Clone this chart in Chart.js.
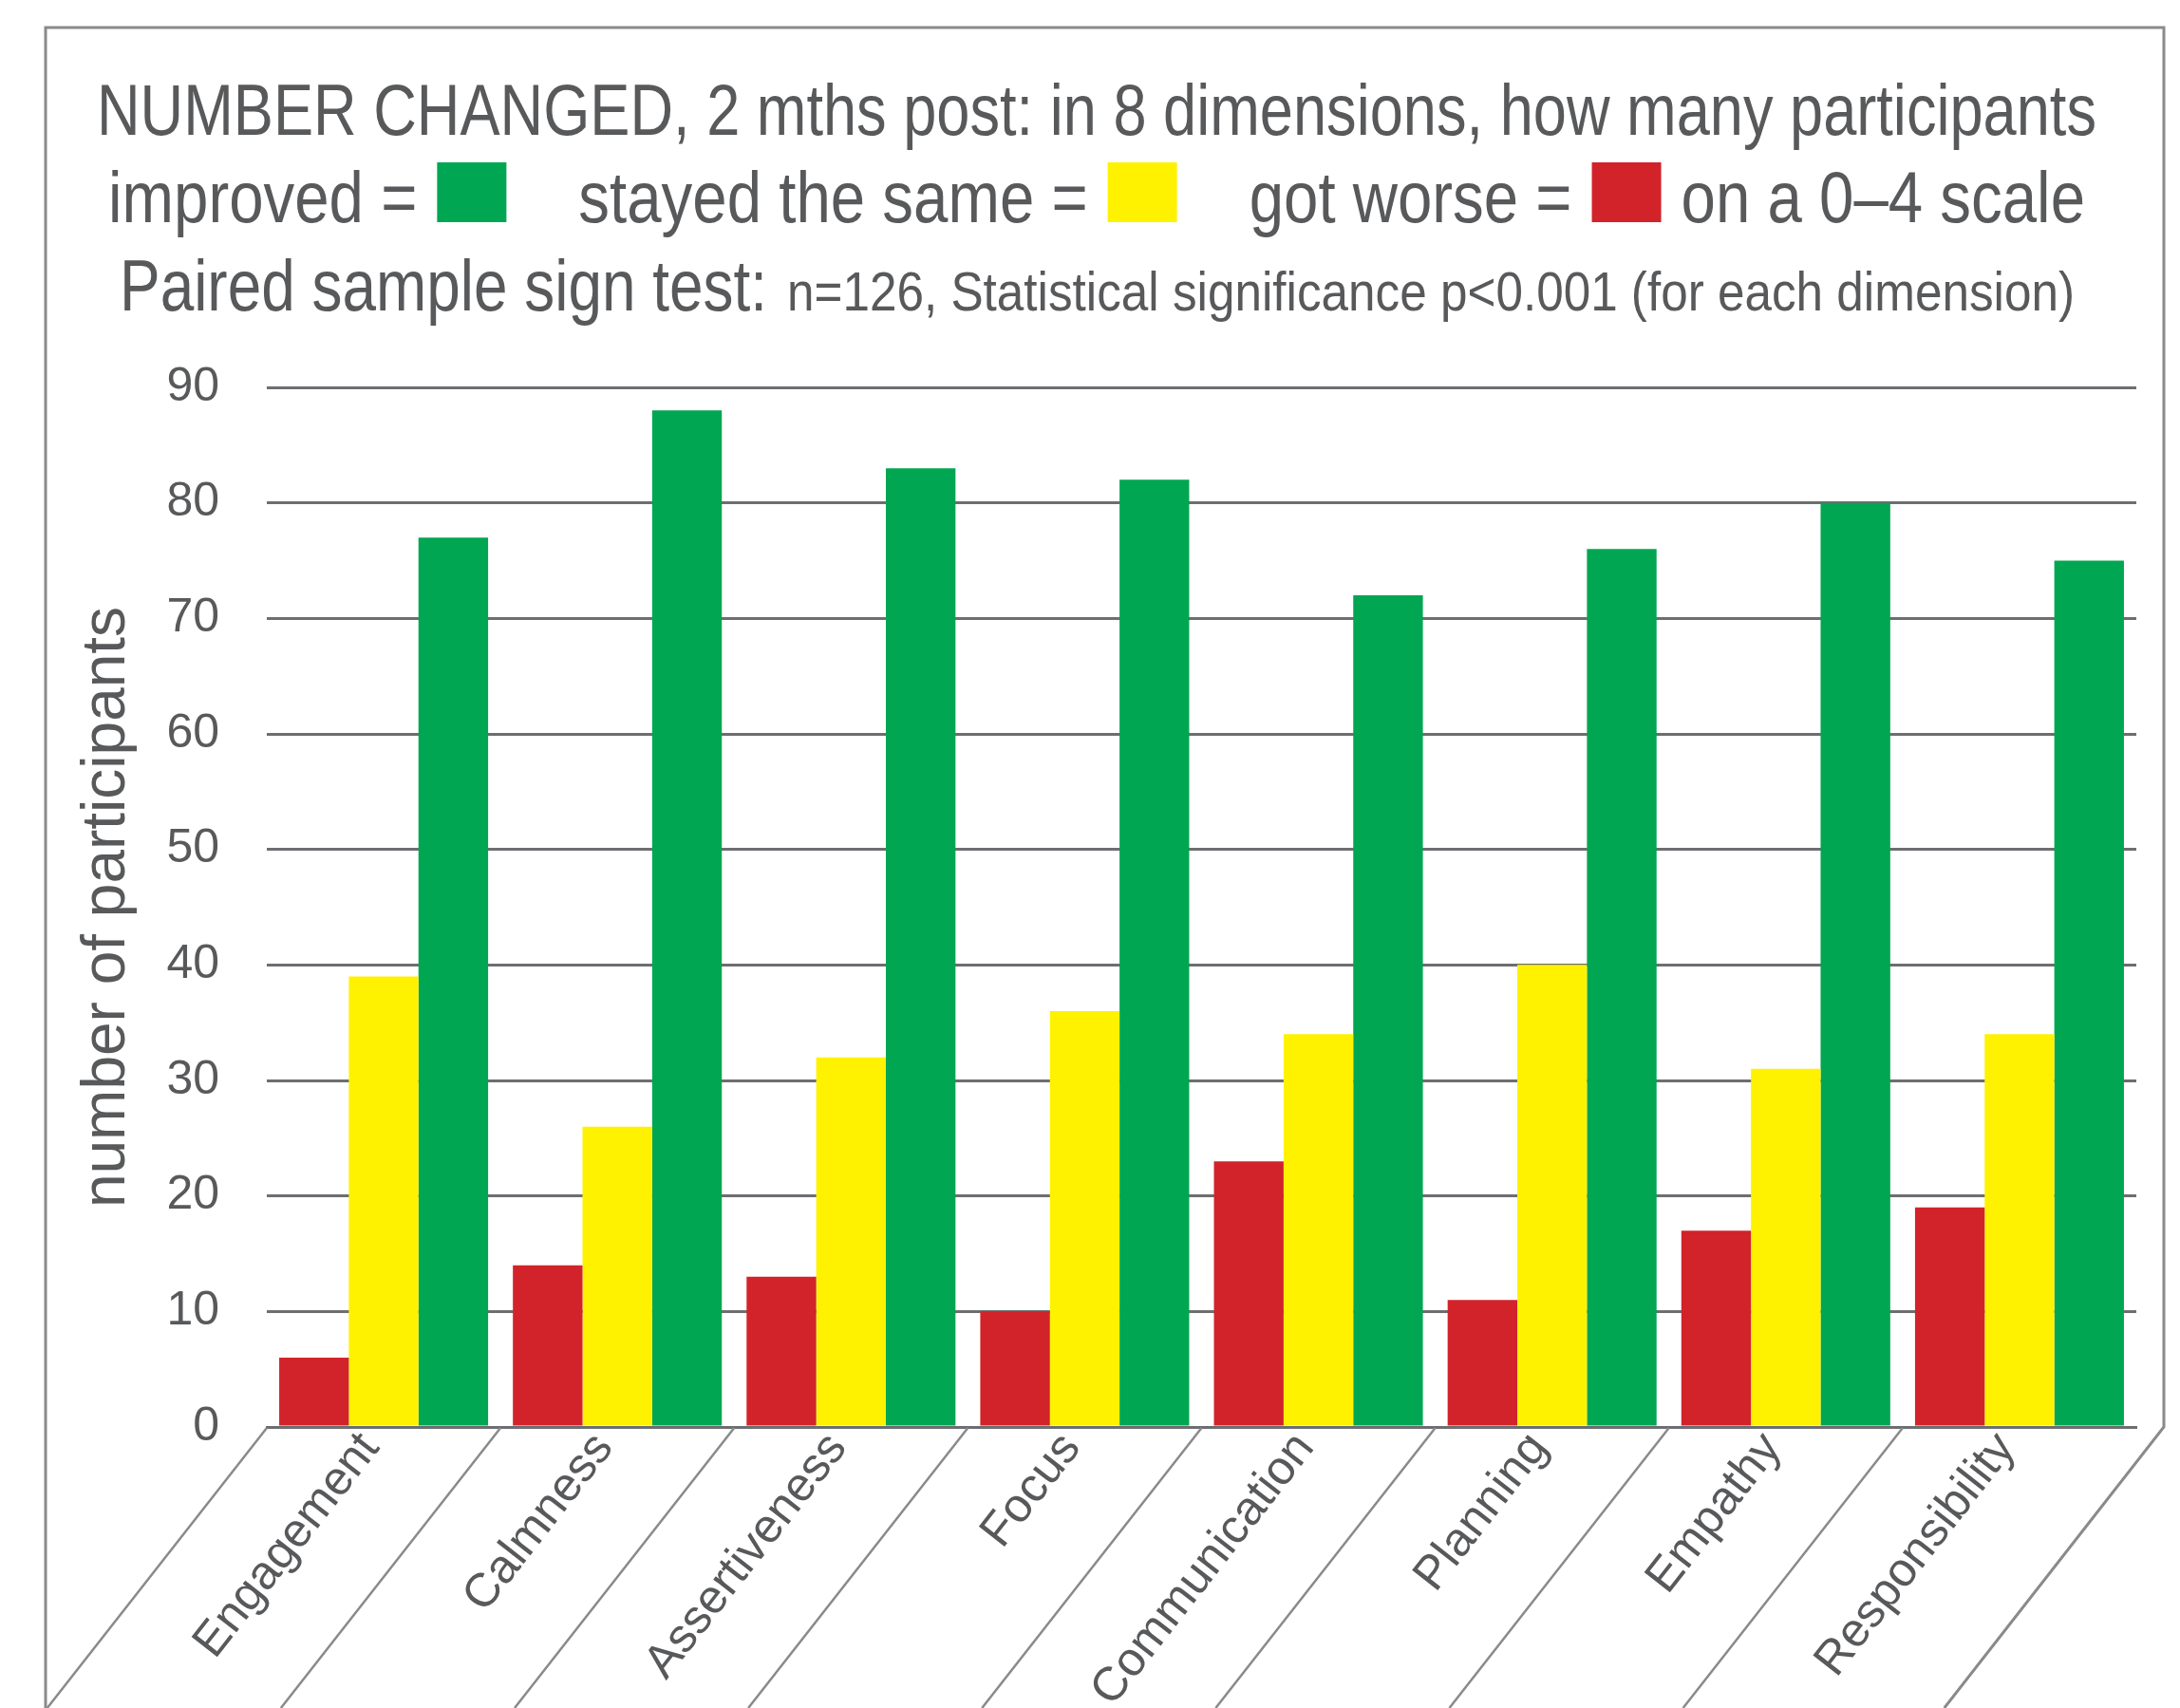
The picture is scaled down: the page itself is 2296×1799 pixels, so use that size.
<!DOCTYPE html>
<html>
<head>
<meta charset="utf-8">
<script src="https://cdn.jsdelivr.net/npm/chart.js@4.4.1/dist/chart.umd.min.js"></script>
<style>
    html, body { margin: 0; padding: 0; background: #fff; }
    canvas { display: block; }
</style>
</head>
<body>
<canvas id="myChart" width="2296" height="1799"></canvas>
<script>
// values
const dimensions = ["Engagement", "Calmness", "Assertiveness", "Focus", "Communication", "Planning", "Empathy", "Responsibility"];
const gotWorse = [6, 14, 13, 10, 23, 11, 17, 19];
const stayedSame = [39, 26, 32, 36, 34, 40, 31, 34];
const improved = [77, 88, 83, 82, 72, 76, 80, 75];
const yTicks = [0, 10, 20, 30, 40, 50, 60, 70, 80, 90];

const titleLine = "NUMBER CHANGED, 2 mths post: in 8 dimensions, how many participants";
const legendItems = [["improved =", "#00a651"], ["stayed the same =", "#fff200"], ["got worse =", "#d2232a"]];
const legendTail = "on a 0\u20134 scale";
const testLabel = "Paired sample sign test:";
const testDetail = "n=126, Statistical significance p<0.001 (for each dimension)";

const grey = '#58595b';
const lineGrey = '#6d6e71';
const frameGrey = '#8a8a8a';
const fontFam = '"Liberation Sans", Arial, Helvetica, sans-serif';

// frame round the chart and the slanted separators under the x axis
const framePlugin = {
    id: 'frame',
    beforeDraw(chart) {
        const ctx = chart.ctx;
        ctx.save();
        ctx.fillStyle = '#fff';
        ctx.fillRect(0, 0, chart.width, chart.height);
        ctx.restore();
    },
    afterDraw(chart) {
        const ctx = chart.ctx;
        const area = chart.chartArea;
        const x = chart.scales.x;
        const rightEdge = area.right + 29;
        const slant = (chart.height - area.bottom) / Math.tan(52 * Math.PI / 180);
        ctx.save();
        ctx.strokeStyle = frameGrey;
        ctx.lineWidth = 3;
        ctx.beginPath();
        ctx.moveTo(48, chart.height);
        ctx.lineTo(48, 29);
        ctx.lineTo(rightEdge, 29);
        ctx.lineTo(rightEdge, area.bottom);
        ctx.lineTo(rightEdge - slant, chart.height);
        ctx.stroke();

        ctx.lineWidth = 2.5;
        const half = (x.getPixelForValue(1) - x.getPixelForValue(0)) / 2;
        for (let i = 0; i < dimensions.length; i++) {
            const bx = x.getPixelForValue(i) - half;
            ctx.beginPath();
            ctx.moveTo(bx, area.bottom + 1);
            ctx.lineTo(bx - slant, chart.height);
            ctx.stroke();
        }
        ctx.restore();
    }
};

// three line heading with coloured keys, squeezed to the widths of the original
const headerPlugin = {
    id: 'header',
    afterDraw(chart) {
        const ctx = chart.ctx;
        const cx = 1155;
        const big = '76px ' + fontFam;
        const small = '58px ' + fontFam;
        ctx.save();
        ctx.fillStyle = grey;
        ctx.textAlign = 'left';
        ctx.textBaseline = 'alphabetic';

        function raw(text, font) {
            ctx.font = font;
            return ctx.measureText(text).width;
        }
        function put(text, font, x, y, k) {
            ctx.font = font;
            ctx.save();
            ctx.translate(x, y);
            ctx.scale(k, 1);
            ctx.fillText(text, 0, 0);
            ctx.restore();
            return ctx.measureText(text).width * k;
        }

        // line 1
        const k1 = 2106 / raw(titleLine, big);
        put(titleLine, big, cx - 1053, 142, k1);

        // line 2
        const boxW = 73, boxH = 63, gapIn = 21, gapOut = 76;
        let textW = raw(legendTail, big);
        legendItems.forEach(function (item) { textW += raw(item[0], big); });
        const fixed = legendItems.length * (gapIn + boxW) + 2 * gapOut + gapIn;
        const k2 = (2082 - fixed) / textW;
        let px = cx - 1041;
        legendItems.forEach(function (item, i) {
            px += put(item[0], big, px, 234, k2) + gapIn;
            ctx.fillStyle = item[1];
            ctx.fillRect(px, 171, boxW, boxH);
            ctx.fillStyle = grey;
            px += boxW + (i < legendItems.length - 1 ? gapOut : gapIn);
        });
        put(legendTail, big, px, 234, k2);

        // line 3
        px = cx - 1029;
        px += put(testLabel, big, px, 327, 682 / raw(testLabel, big)) + 21;
        put(testDetail, small, px, 327, 1356 / raw(testDetail, small));
        ctx.restore();
    }
};

var ctx = document.getElementById('myChart').getContext('2d');

var myChart = new Chart(ctx, {
    type: 'bar',
    data: {
        labels: dimensions,
        datasets: [
            { label: 'got worse', data: gotWorse, backgroundColor: '#d2232a' },
            { label: 'stayed the same', data: stayedSame, backgroundColor: '#fff200' },
            { label: 'improved', data: improved, backgroundColor: '#00a651' }
        ]
    },
    options: {
        responsive: false,
        animation: false,
        devicePixelRatio: 1,
        layout: { padding: { top: 408, right: 46, left: 0, bottom: 0 } },
        datasets: { bar: { categoryPercentage: 0.894, barPercentage: 1.0, borderWidth: 0 } },
        plugins: {
            legend: { display: false },
            title: { display: false },
            tooltip: { enabled: false }
        },
        scales: {
            x: {
                grid: { display: false, drawTicks: false },
                border: { display: true, color: lineGrey, width: 3 },
                ticks: {
                    autoSkip: false,
                    minRotation: 52,
                    maxRotation: 52,
                    padding: -5,
                    labelOffset: -14,
                    color: grey,
                    font: { family: fontFam, size: 50 }
                },
                afterFit(scale) { scale.height = 296; }
            },
            y: {
                min: 0,
                max: 90,
                grid: { color: lineGrey, lineWidth: 3, drawTicks: false },
                border: { display: false },
                ticks: {
                    padding: 50,
                    color: grey,
                    font: { family: fontFam, size: 50 }
                },
                afterBuildTicks(scale) { scale.ticks = yTicks.map(v => ({ value: v })); },
                title: {
                    display: true,
                    text: 'number of participants',
                    color: grey,
                    font: { family: fontFam, size: 64 },
                    padding: { top: 75, bottom: 0 }
                },
                afterFit(scale) { scale.width = 281; }
            }
        }
    },
    plugins: [framePlugin, headerPlugin]
});
</script>
</body>
</html>
